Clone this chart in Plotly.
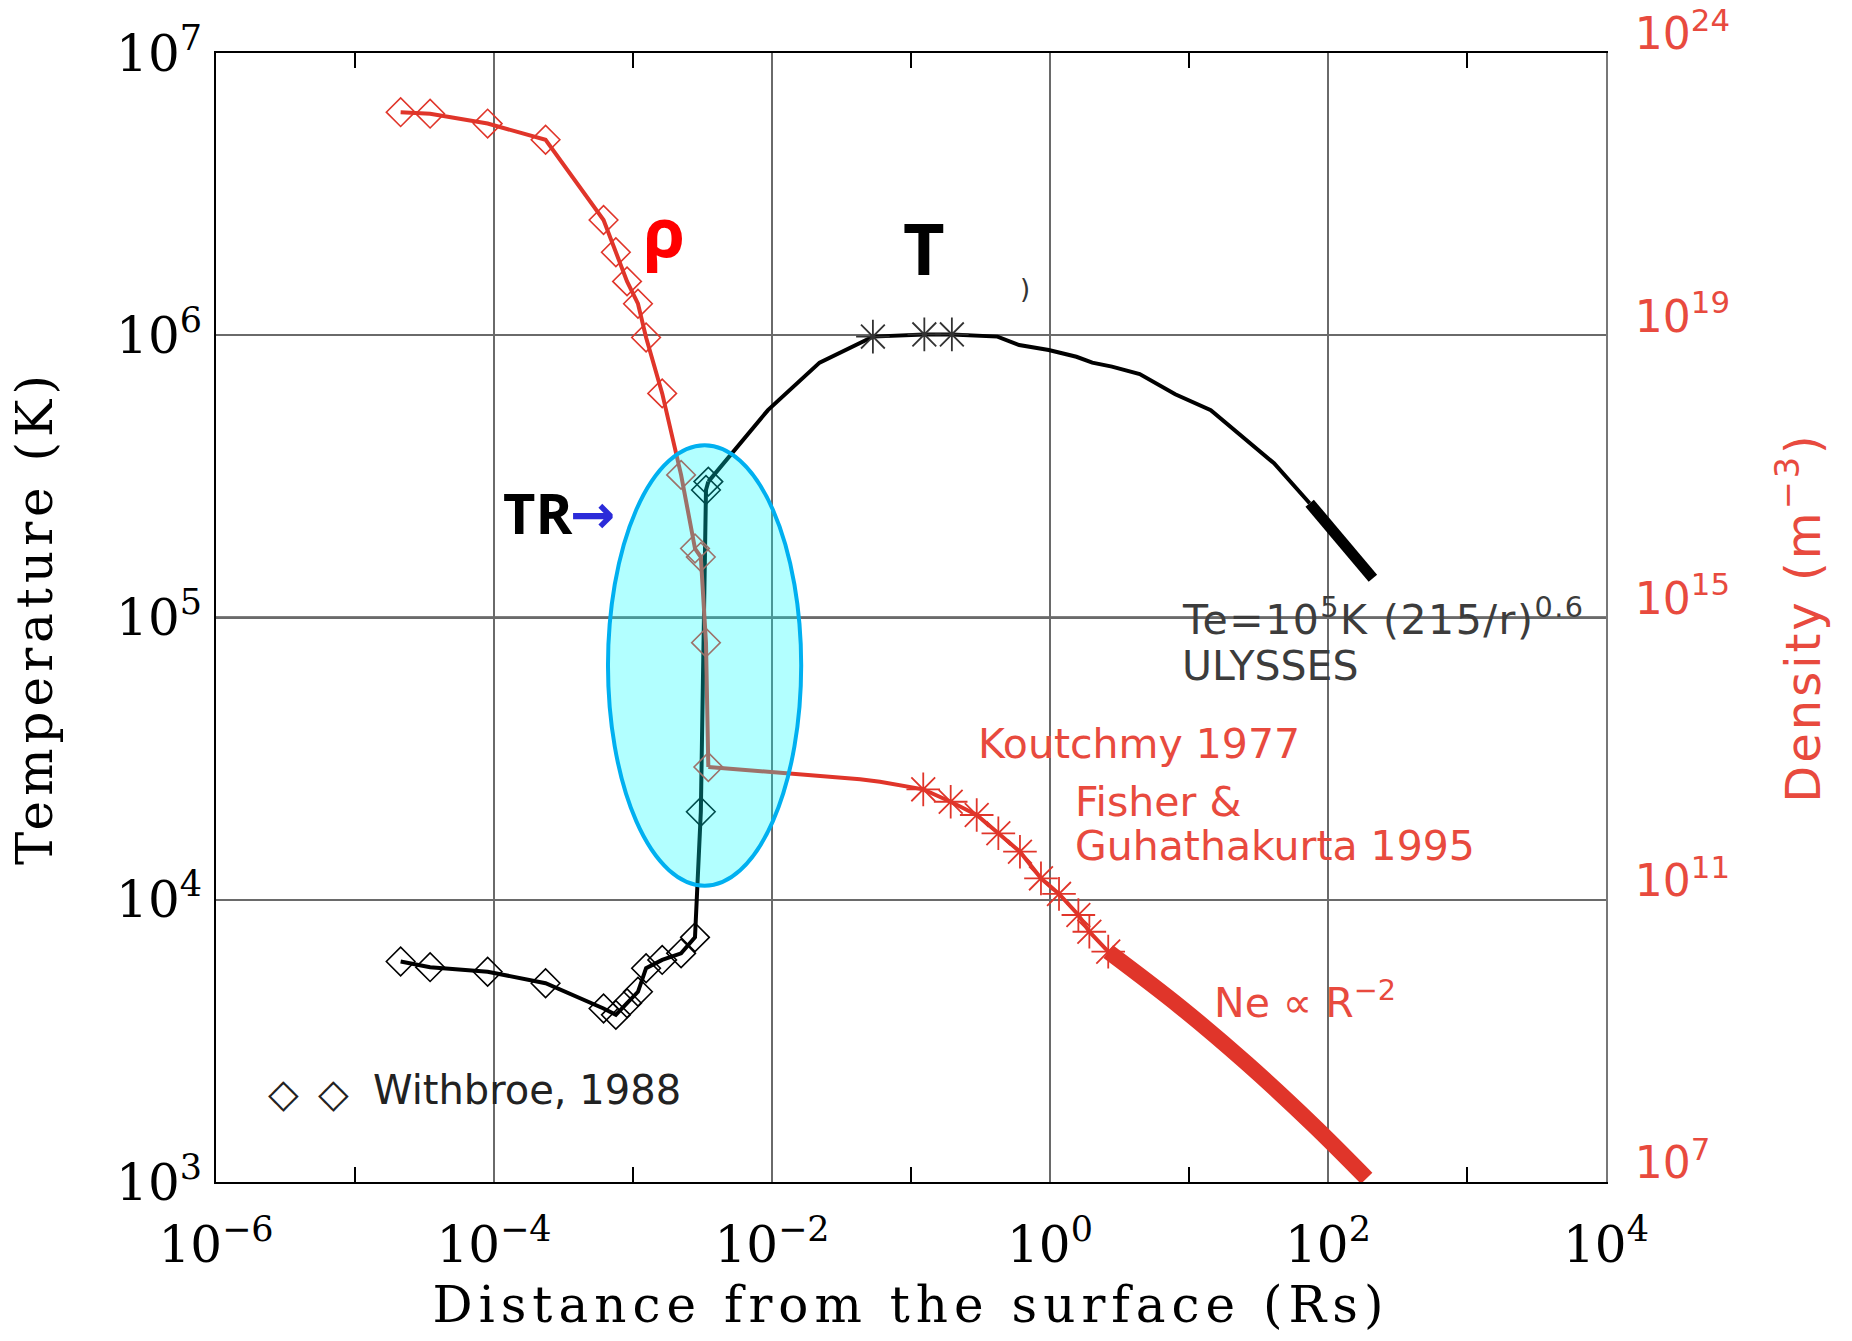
import plotly.graph_objects as go

# ---------------------------------------------------------------------------
# Data (heights above the photosphere in solar radii)
# ---------------------------------------------------------------------------
# Withbroe (1988) chromosphere / transition-region model: common height grid
WB_H = [2.13e-5, 3.47e-5, 9.0e-5, 2.35e-4, 6.14e-4, 7.53e-4, 9.06e-4, 1.086e-3,
        1.242e-3, 1.622e-3, 2.218e-3, 2.793e-3, 3.076e-3, 3.350e-3, 3.483e-3]
WB_T = [6040, 5770, 5560, 5060, 4120, 3910, 4300, 4720,
        5720, 6120, 6460, 7360, 20500, 283000, 303000]
WB_NE = [1.45e22, 1.38e22, 1.0e22, 5.9e21, 4.3e20, 1.5e20, 5.8e19, 2.8e19,
         9.3e18, 1.5e18, 1.05e17, 9.5e15, 7.2e15, 4.4e14, 7.6e12]

# Coronal temperature profile
COR_H = [9.35e-3, 0.0220, 0.0532, 0.1247, 0.1968, 0.419, 0.600, 0.979,
         1.549, 2.014, 2.79, 4.42, 7.96, 14.35, 40.9, 73.8]
COR_T = [5.43e5, 8.0e5, 9.89e5, 1.007e6, 1.007e6, 9.89e5, 9.23e5, 8.87e5,
         8.39e5, 8.0e5, 7.74e5, 7.29e5, 6.18e5, 5.43e5, 3.52e5, 2.54e5]
COR_T_STARS = [2, 3, 4]

# ULYSSES extrapolation, Te = 1e5 K (215/r)^0.6
ULY_H = [73.8, 210.4]
ULY_T = [2.54e5, 1.377e5]

# Coronal electron density (Koutchmy 1977; Fisher & Guhathakurta 1995)
COR_NE_H = [0.0125, 0.043, 0.0598, 0.1225, 0.193, 0.297, 0.425, 0.608,
            0.861, 1.161, 1.600, 1.919, 2.624]
COR_NE = [6.3e12, 5.1e12, 4.7e12, 3.67e12, 2.45e12, 1.59e12, 8.75e11, 4.8e11,
          2.01e11, 1.21e11, 6.08e10, 3.52e10, 1.84e10]
COR_NE_STARS = [3, 4, 5, 6, 7, 8, 9, 10, 11, 12]

# Ne ~ R^-2 wind extrapolation
WIND_H = [2.624, 8.61, 26.0, 78.3, 189.7]
WIND_NE = [1.84e10, 3.05e9, 4.81e8, 6.43e7, 1.13e7]

# Transition-region highlight (height range, temperature range)
TR_H = (10 ** -3.18, 10 ** -1.79)
TR_T = (10 ** 4.05, 10 ** 5.61)

# Axis ticks
X_TICKS = [1e-6, 1e-4, 1e-2, 1e0, 1e2, 1e4]
X_TICKTEXT = ["10<sup>−6</sup>", "10<sup>−4</sup>", "10<sup>−2</sup>",
              "10<sup>0</sup>", "10<sup>2</sup>", "10<sup>4</sup>"]
X_MINOR = [1e-5, 1e-3, 1e-1, 1e1, 1e3]
T_TICKS = [1e3, 1e4, 1e5, 1e6, 1e7]
T_TICKTEXT = ["10<sup>3</sup>", "10<sup>4</sup>", "10<sup>5</sup>",
              "10<sup>6</sup>", "10<sup>7</sup>"]
NE_TICKS = [1e7, 1e11, 1e15, 1e19, 1e23]
NE_TICKTEXT = ["10<sup>7</sup>", "10<sup>11</sup>", "10<sup>15</sup>",
               "10<sup>19</sup>", "10<sup>24</sup>"]

# ---------------------------------------------------------------------------
# Styling
# ---------------------------------------------------------------------------
W, H = 1852, 1341
PL, PR, PT, PB = 216, 1606, 53, 1182          # plot-area edges in pixels
RED = "#e0352a"
RED_TEXT = "#e84a3e"
SERIF = "DejaVu Serif"
SANS = "DejaVu Sans"
BOLD = "Open Sans"


def fx(px):
    """figure pixel -> paper x"""
    return (px - PL) / (PR - PL)


def fy(py):
    """figure pixel -> paper y"""
    return (PB - py) / (PB - PT)


fig = go.Figure()

# Withbroe temperature
fig.add_trace(go.Scatter(
    x=WB_H, y=WB_T, mode="lines+markers",
    line=dict(color="black", width=4),
    marker=dict(symbol="diamond-open", size=22, color="black",
                line=dict(width=1.6)),
))
# Coronal temperature
fig.add_trace(go.Scatter(
    x=[WB_H[-1]] + COR_H, y=[WB_T[-1]] + COR_T, mode="lines",
    line=dict(color="black", width=4),
))
fig.add_trace(go.Scatter(
    x=[COR_H[i] for i in COR_T_STARS], y=[COR_T[i] for i in COR_T_STARS],
    mode="markers",
    marker=dict(symbol="asterisk-open", size=28, color="#333333",
                line=dict(width=1.8, color="#333333")),
))
fig.add_trace(go.Scatter(
    x=ULY_H, y=ULY_T, mode="lines",
    line=dict(color="black", width=11),
))

# Withbroe density
fig.add_trace(go.Scatter(
    x=WB_H, y=WB_NE, mode="lines+markers", yaxis="y2",
    line=dict(color=RED, width=4),
    marker=dict(symbol="diamond-open", size=22, color=RED,
                line=dict(width=1.6)),
))
# Coronal density
fig.add_trace(go.Scatter(
    x=[WB_H[-1]] + COR_NE_H, y=[WB_NE[-1]] + COR_NE, mode="lines", yaxis="y2",
    line=dict(color=RED, width=4),
))
fig.add_trace(go.Scatter(
    x=[COR_NE_H[i] for i in COR_NE_STARS], y=[COR_NE[i] for i in COR_NE_STARS],
    mode="markers", yaxis="y2",
    marker=dict(symbol="asterisk-open", size=28, color=RED,
                line=dict(width=1.8, color=RED)),
))
fig.add_trace(go.Scatter(
    x=WIND_H, y=WIND_NE, mode="lines", yaxis="y2",
    line=dict(color=RED, width=16, shape="spline", smoothing=1.0),
))

shapes = [
    # emphasised 1e5 K reference line
    dict(type="line", xref="paper", x0=0, x1=1, yref="y", y0=1e5, y1=1e5,
         line=dict(color="black", width=2), layer="between"),
    # transition region
    dict(type="circle", xref="x", yref="y",
         x0=TR_H[0], x1=TR_H[1], y0=TR_T[0], y1=TR_T[1],
         fillcolor="rgba(0,255,255,0.3)",
         line=dict(color="#00b0f0", width=4), layer="above"),
]


def label(text, px, py, size, color, family=SANS, xanchor="left", weight=None):
    f = dict(family=family, size=size, color=color)
    if weight:
        f["weight"] = weight
    return dict(text=text, x=fx(px), y=fy(py), xref="paper", yref="paper",
                xanchor=xanchor, yanchor="middle", showarrow=False, font=f)


annotations = [
    label("ρ", 664, 230, 68, "#ff0000", family=BOLD, xanchor="center", weight=700),
    label("T", 924, 247, 72, "black", family=BOLD, xanchor="center", weight=700),
    label("TR", 501, 512, 56, "black", family=BOLD, weight=700),
    label("→", 568, 514, 54, "#2b2bd9", family=SANS, weight=700),
    label(")", 1025, 289, 26, "#333333", xanchor="center"),
    label('<span style="letter-spacing:1.5px">Te=10<sup>5</sup>K (215/r)<sup>0.6</sup></span>',
          1180, 617, 41, "#3c3c3c"),
    label("ULYSSES", 1180, 666, 41, "#3c3c3c"),
    label("Koutchmy 1977", 976, 744, 41, RED_TEXT),
    label("Fisher &", 1073, 802, 41, RED_TEXT),
    label("Guhathakurta 1995", 1073, 846, 41, RED_TEXT),
    label("Ne ∝ R<sup>−2</sup>", 1212, 1000, 41, RED_TEXT),
    label("◇", 283.5, 1093, 40, "#222222", xanchor="center"),
    label("◇", 333.7, 1093, 40, "#222222", xanchor="center"),
    label("Withbroe, 1988", 371, 1090, 40, "#222222"),
]

GRID = "#6a6a6a"

fig.update_layout(
    width=W, height=H, autosize=False, template="none",
    margin=dict(l=PL, r=W - PR, t=PT, b=H - PB, pad=0),
    paper_bgcolor="white", plot_bgcolor="white",
    showlegend=False,
    shapes=shapes, annotations=annotations,
    xaxis=dict(
        type="log", range=[-6, 4], automargin=False,
        tickvals=X_TICKS, ticktext=X_TICKTEXT, ticks="",
        ticklabelstandoff=18,
        tickfont=dict(family=SERIF, size=50, color="black"),
        showgrid=True, gridcolor=GRID, gridwidth=2, zeroline=False,
        showline=True, linecolor="black", linewidth=2, mirror="ticks",
        minor=dict(tickvals=X_MINOR, ticks="inside", ticklen=15, tickwidth=2,
                   tickcolor="black", showgrid=False),
        title=dict(text='<span style="letter-spacing:6px">Distance from the surface (Rs)</span>',
                   font=dict(family=SERIF, size=50, color="black"), standoff=14),
    ),
    yaxis=dict(
        type="log", range=[3, 7], automargin=False,
        tickvals=T_TICKS, ticktext=T_TICKTEXT, ticks="",
        ticklabelstandoff=2,
        tickfont=dict(family=SERIF, size=50, color="black"),
        showgrid=True, gridcolor=GRID, gridwidth=2, zeroline=False,
        showline=True, linecolor="black", linewidth=2,
        title=dict(text='<span style="letter-spacing:5px">Temperature (K)</span>',
                   font=dict(family=SERIF, size=50, color="black"), standoff=48),
    ),
    yaxis2=dict(
        type="log", range=[7, 23], overlaying="y", side="right", automargin=False,
        tickvals=NE_TICKS, ticktext=NE_TICKTEXT, ticks="",
        ticklabelstandoff=18, ticklabelshift=-19,
        tickfont=dict(family=SANS, size=44, color=RED_TEXT),
        showgrid=False, zeroline=False,
        showline=True, linecolor="#777777", linewidth=2,
        title=dict(text='<span style="letter-spacing:3px">Density (m<sup>−3</sup>)</span>',
                   font=dict(family=SANS, size=48, color=RED_TEXT), standoff=57),
    ),
)

fig.write_html("out.html")
